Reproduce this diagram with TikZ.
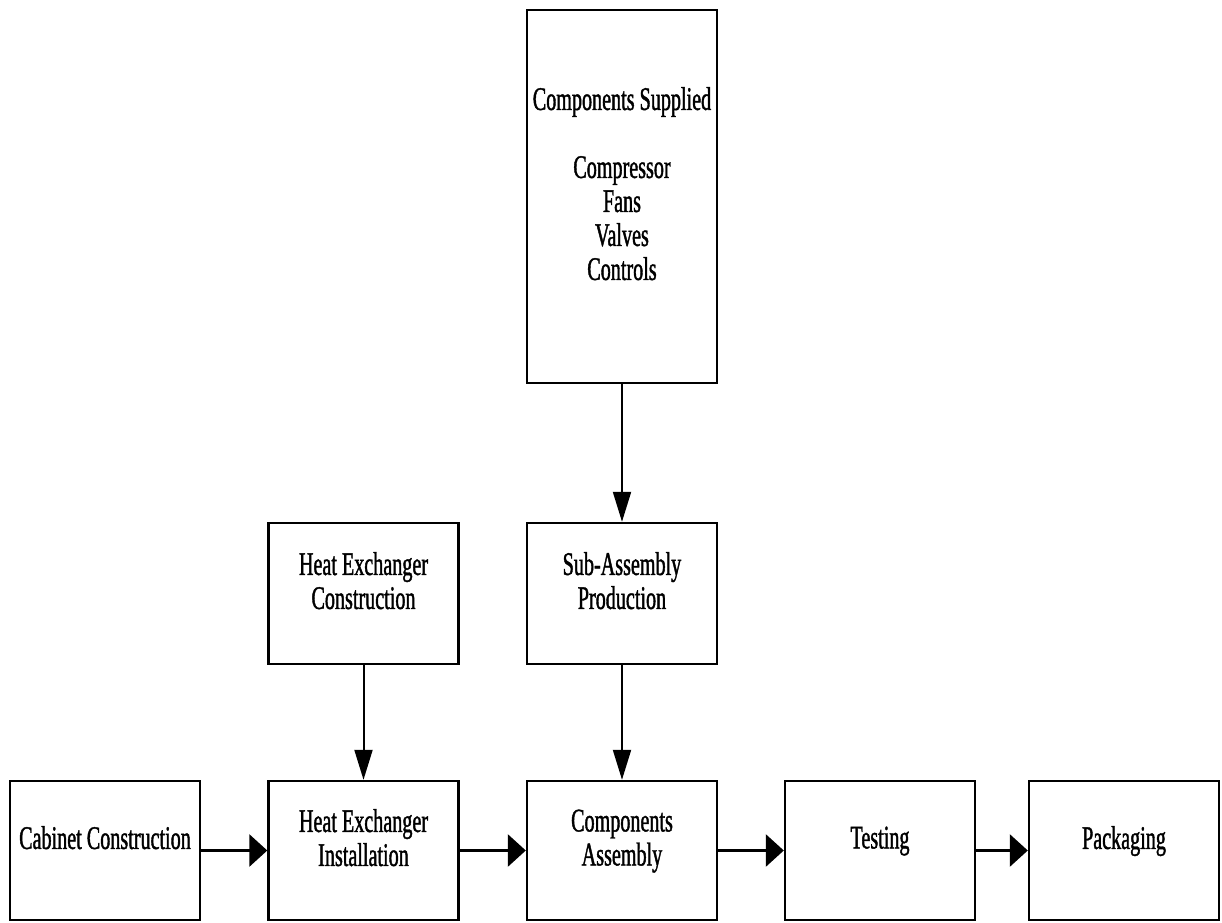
\documentclass[tikz,border=0pt]{standalone}
\usepackage{fontspec}
\setmainfont{Liberation Serif}[FakeStretch=0.61, FakeBold=1.2]
\usetikzlibrary{arrows.meta, positioning}

\begin{document}
\begin{tikzpicture}[
  x=0.5pt, y=-0.5pt,
  font=\fontsize{16.5}{17}\selectfont,
  box/.style={
    draw, line width=1.2pt, inner sep=0pt,
    minimum width=95pt, minimum height=69.5pt, align=center,
    execute at end node={\rule[-13pt]{0pt}{0pt}}
  },
  midbox/.style={box, minimum height=70.5pt},
  tallbox/.style={box, minimum height=186.5pt},
  harr/.style={-{Triangle[length=9pt,width=16pt]}, line width=1.5pt},
  varr/.style={-{Triangle[length=15pt,width=9pt]}, line width=1pt}
]
  \useasboundingbox (0,0) rectangle (1222,922);

  \node[tallbox] (supp) at (622,196.5)
    {Components Supplied\\[17pt]Compressor\\Fans\\Valves\\Controls};
  \node[midbox] (hxc) at (363.5,593.5) {Heat Exchanger\\Construction};
  \node[midbox] (sub) at (622,593.5) {Sub-Assembly\\Production};

  \node[box] (cab) at (105,850.5) {Cabinet Construction};
  \node[box] (hxi) at (363.5,850.5) {Heat Exchanger\\Installation};
  \node[box] (asm) at (622,850.5) {Components\\Assembly};
  \node[box] (test) at (880,850.5) {Testing};
  \node[box] (pack) at (1124,850.5) {Packaging};

  \foreach \a/\b in {cab/hxi, hxi/asm, asm/test, test/pack}
    \draw[harr] (\a) -- (\b);
  \foreach \a/\b in {supp/sub, sub/asm, hxc/hxi}
    \draw[varr] (\a) -- (\b);
\end{tikzpicture}
\end{document}
